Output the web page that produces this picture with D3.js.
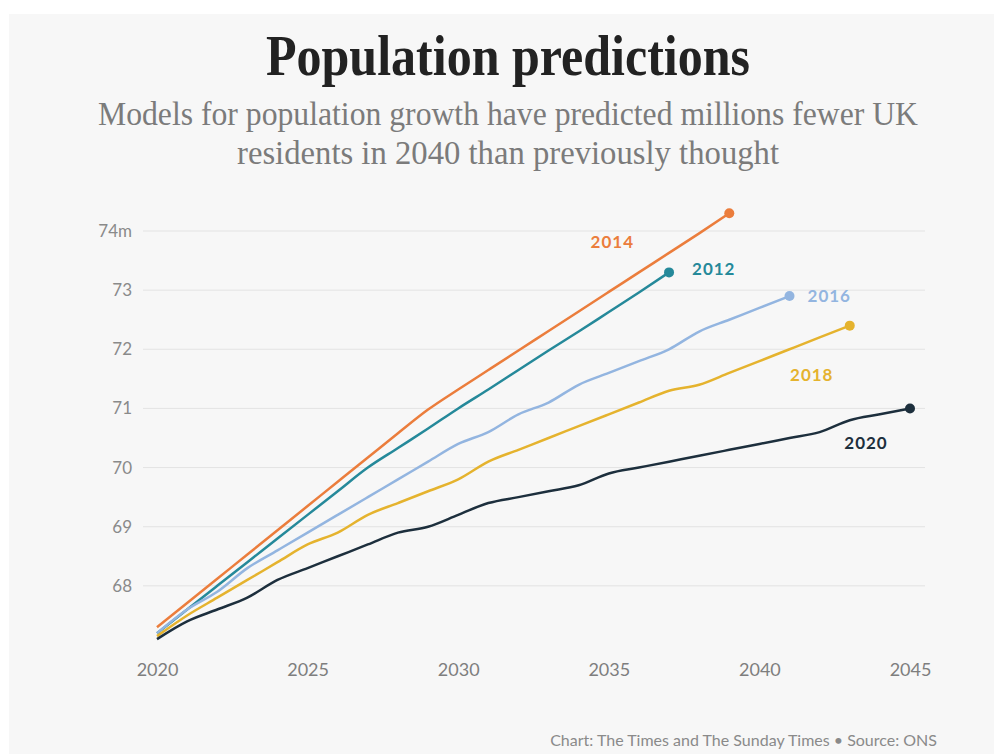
<!DOCTYPE html>
<html>
<head>
<meta charset="utf-8">
<script src="https://cdn.jsdelivr.net/npm/d3@7"></script>
<style>
  body { margin: 0; background: #fff; }
  svg { display: block; }
</style>
</head>
<body>
<svg id="chart" width="994" height="754"></svg>
<script>
const seriesNames = ["2014", "2012", "2016", "2018", "2020"];
const seriesColors = ["#eb7d3c", "#25899a", "#93b5e0", "#e5b32e", "#1d2f3d"];
const startYear = 2020;

const vals2014 = [67.3, 67.71, 68.12, 68.53, 68.94, 69.35, 69.76, 70.17, 70.58, 70.98, 71.32, 71.65, 71.98, 72.31, 72.64, 72.97, 73.3, 73.63, 73.96, 74.3];
const vals2012 = [67.2, 67.6, 68.0, 68.4, 68.8, 69.2, 69.6, 70.0, 70.33, 70.66, 71.0, 71.32, 71.65, 71.98, 72.3, 72.63, 72.96, 73.3];
const vals2016 = [67.2, 67.6, 67.9, 68.3, 68.6, 68.9, 69.2, 69.5, 69.8, 70.1, 70.4, 70.6, 70.9, 71.1, 71.4, 71.6, 71.8, 72.0, 72.3, 72.5, 72.7, 72.9];
const vals2018 = [67.15, 67.5, 67.8, 68.1, 68.4, 68.7, 68.9, 69.2, 69.4, 69.6, 69.8, 70.1, 70.3, 70.5, 70.7, 70.9, 71.1, 71.3, 71.4, 71.6, 71.8, 72.0, 72.2, 72.4];
const vals2020 = [67.1, 67.4, 67.6, 67.8, 68.1, 68.3, 68.5, 68.7, 68.9, 69.0, 69.2, 69.4, 69.5, 69.6, 69.7, 69.9, 70.0, 70.1, 70.2, 70.3, 70.4, 70.5, 70.6, 70.8, 70.9, 71.0];
const seriesValues = [vals2014, vals2012, vals2016, vals2018, vals2020];

const yTicks = [68, 69, 70, 71, 72, 73, 74];
const xTicks = [2020, 2025, 2030, 2035, 2040, 2045];

const titleText = "Population predictions";
const subtitleLines = ["Models for population growth have predicted millions fewer UK", "residents in 2040 than previously thought"];
const footerText = "Chart: The Times and The Sunday Times \u2022 Source: ONS";

const svg = d3.select("#chart");

// panel background
svg.append("rect").attr("x", 9).attr("y", 14).attr("width", 985).attr("height", 740).attr("fill", "#f7f7f7");

const x = d3.scaleLinear().domain([2020, 2045]).range([157, 910]);
const y = d3.scaleLinear().domain([67, 74]).range([645, 231]);

// title + subtitle (condensed serif look)
svg.append("text")
  .attr("x", 508).attr("y", 75)
  .attr("text-anchor", "middle")
  .attr("font-family", "Liberation Serif, serif")
  .attr("font-weight", "bold")
  .attr("font-size", 57)
  .attr("fill", "#222")
  .attr("textLength", 484).attr("lengthAdjust", "spacingAndGlyphs")
  .text(titleText);

const subLens = [820, 542];
subtitleLines.forEach((line, i) => {
  svg.append("text")
    .attr("x", 508).attr("y", 125 + i * 39)
    .attr("text-anchor", "middle")
    .attr("font-family", "Liberation Serif, serif")
    .attr("font-size", 33)
    .attr("fill", "#7b7b7b")
    .attr("textLength", subLens[i]).attr("lengthAdjust", "spacingAndGlyphs")
    .text(line);
});

// gridlines
svg.append("g")
  .selectAll("line")
  .data(yTicks)
  .enter().append("line")
  .attr("x1", 143).attr("x2", 925)
  .attr("y1", d => y(d)).attr("y2", d => y(d))
  .attr("stroke", "#e3e3e3").attr("stroke-width", 1);

// y axis labels
svg.append("g")
  .selectAll("text")
  .data(yTicks)
  .enter().append("text")
  .attr("x", 132).attr("y", d => y(d) + 6)
  .attr("text-anchor", "end")
  .attr("font-family", "Lato, sans-serif")
  .attr("font-size", 17)
  .attr("fill", "#8a8a8a")
  .text(d => d === 74 ? "74m" : d);

// x axis
const xAxis = svg.append("g")
  .attr("transform", "translate(0,652)")
  .call(d3.axisBottom(x).tickValues(xTicks).tickFormat(d3.format("d")).tickSize(0).tickPadding(11));
xAxis.select(".domain").remove();
xAxis.selectAll("text")
  .attr("font-family", "Lato, sans-serif")
  .attr("font-size", 18)
  .attr("fill", "#7e7e7e");

// lines
const line = d3.line()
  .x((d, i) => x(startYear + i))
  .y(d => y(d))
  .curve(d3.curveMonotoneX);

const labelPos = [
  { dx: -117, dy: 35, anchor: "middle" },
  { dx: 23, dy: 3, anchor: "start" },
  { dx: 18, dy: 6, anchor: "start" },
  { dx: -38, dy: 55, anchor: "middle" },
  { dx: -44, dy: 41, anchor: "middle" }
];

seriesValues.forEach((vals, s) => {
  const g = svg.append("g");
  g.append("path")
    .datum(vals)
    .attr("fill", "none")
    .attr("stroke", seriesColors[s])
    .attr("stroke-width", 2.5)
    .attr("d", line);
  const last = vals.length - 1;
  const ex = x(startYear + last), ey = y(vals[last]);
  g.append("circle")
    .attr("cx", ex).attr("cy", ey).attr("r", 5)
    .attr("fill", seriesColors[s]);
  g.append("text")
    .attr("x", ex + labelPos[s].dx).attr("y", ey + labelPos[s].dy)
    .attr("text-anchor", labelPos[s].anchor)
    .attr("font-family", "Lato, sans-serif")
    .attr("font-weight", "bold")
    .attr("font-size", 17)
    .attr("letter-spacing", 1)
    .attr("fill", seriesColors[s])
    .text(seriesNames[s]);
});

// footer
svg.append("text")
  .attr("x", 937).attr("y", 746)
  .attr("text-anchor", "end")
  .attr("font-family", "Lato, sans-serif")
  .attr("font-size", 16)
  .attr("fill", "#8a8a8a")
  .text(footerText);
</script>
</body>
</html>
